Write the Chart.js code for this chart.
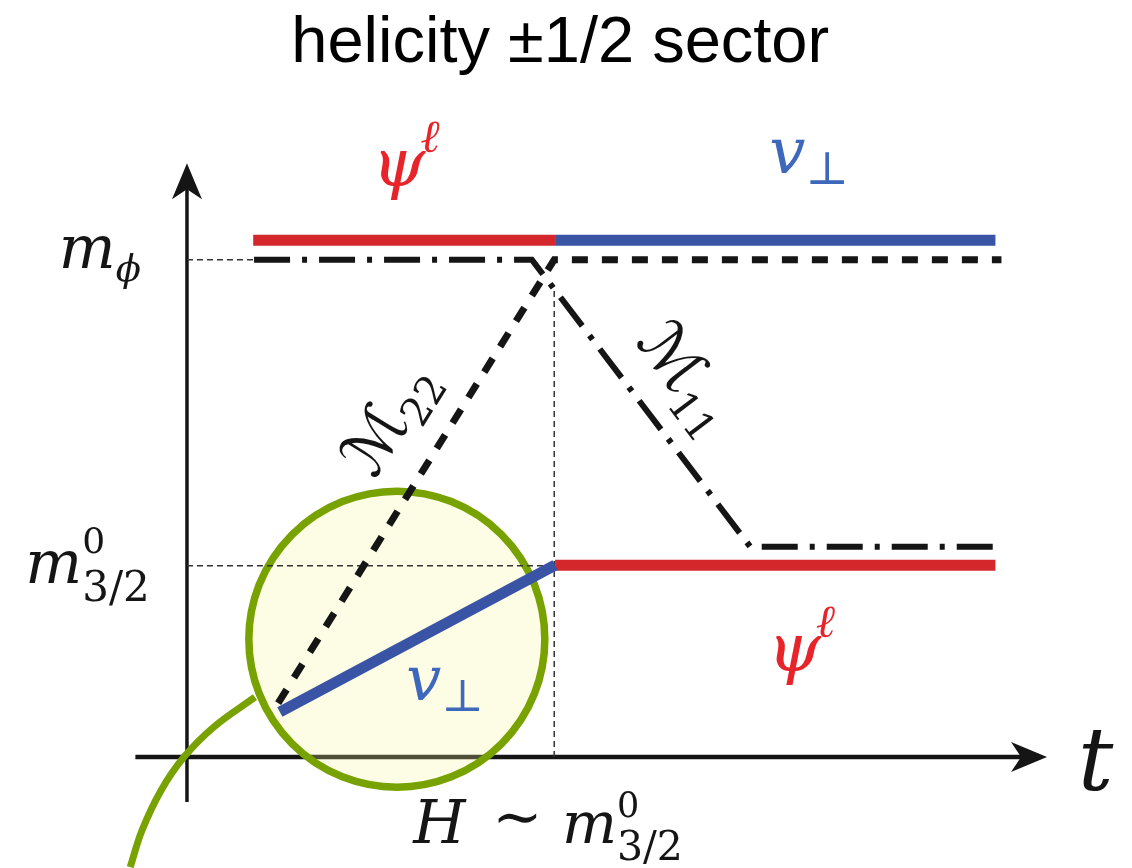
<!DOCTYPE html>
<html lang="en">
<head>
  <meta charset="UTF-8">
  <title>helicity ±1/2 sector</title>
  <script src="https://cdn.jsdelivr.net/npm/chart.js"></script>
  <style>
    html, body { margin: 0; background: #fff; }
    #wrap { width: 1132px; height: 868px; }
  </style>
</head>
<body>
  <div id="wrap"><canvas id="chart" width="1132" height="868"></canvas></div>

  <script>
    // mass levels and the crossing time (arbitrary units)
    const mPhi = 8.4;
    const m32 = 3.23;
    const tH = 4.27;

    // eigenvalue branches
    const topRed   = [{x: 0.77, y: 8.73}, {x: 4.28, y: 8.73}];
    const topBlue  = [{x: 4.28, y: 8.73}, {x: 9.40, y: 8.73}];
    const lowBlue  = [{x: 1.08, y: 0.76}, {x: 4.28, y: 3.24}];
    const lowRed   = [{x: 4.28, y: 3.24}, {x: 9.40, y: 3.24}];
    const m11      = [{x: 0.78, y: 8.40}, {x: 4.01, y: 8.40}, {x: 6.55, y: 3.55}, {x: 9.47, y: 3.55}];
    const m22      = [{x: 1.06, y: 0.91}, {x: 4.27, y: 8.40}, {x: 9.47, y: 8.40}];

    // thin guides
    const guidePhi = [{x: 0, y: mPhi}, {x: 0.78, y: mPhi}];
    const guide32  = [{x: 0, y: m32}, {x: 4.28, y: m32}];
    const guideH   = [{x: tH, y: 0}, {x: tH, y: 7.94}];

    // magnifier circle and its tail
    const lens     = [{x: 2.44, y: 1.99}];
    const lensTail = [{x: 0.79, y: 1.01}, {x: 0.314, y: 0.51}, {x: -0.035, y: 0}, {x: -0.30, y: -0.56}, {x: -0.52, y: -1.23}, {x: -0.66, y: -1.86}];

    // axes extent
    const xAxisFrom = -0.6, xAxisTo = 10.0;
    const yAxisFrom = -0.76, yAxisTo = 10.03;

    const RED = '#d3272c', BLUE = '#3953a5', GREEN = '#77a200';
    const RED_TXT = '#e8242b', BLUE_TXT = '#3d68bb', INK = '#151515';

    function seg(data, color, width, dash, order, tension) {
      return {
        data, showLine: true, borderColor: color, borderWidth: width,
        borderDash: dash || [], pointRadius: 0, fill: false, clip: false,
        tension: tension || 0, order: order
      };
    }

    function arrowHead(ctx, x, y, dx, dy) {
      const len = 36, half = 15, notch = 10;
      const px = -dy, py = dx;
      ctx.beginPath();
      ctx.moveTo(x, y);
      ctx.lineTo(x - dx * len + px * half, y - dy * len + py * half);
      ctx.lineTo(x - dx * (len - notch), y - dy * (len - notch));
      ctx.lineTo(x - dx * len - px * half, y - dy * len - py * half);
      ctx.closePath();
      ctx.fill();
    }

    function mathLabel(ctx, x, y, o) {
      ctx.fillStyle = o.color;
      ctx.textAlign = 'left';
      ctx.textBaseline = 'alphabetic';
      ctx.font = 'italic ' + o.size + 'px "DejaVu Serif"';
      ctx.fillText(o.base, x, y);
      const w = ctx.measureText(o.base).width;
      if (o.sup) {
        const s = Math.round(o.size * (o.supScale || 0.6));
        ctx.font = (o.supItalic ? 'italic ' : '') + s + 'px "DejaVu Serif"';
        ctx.fillText(o.sup, x + w + (o.supDx || 0), y - o.size * (o.supShift || 0.5));
      }
      if (o.sub) {
        const s = Math.round(o.size * (o.subScale || 0.6));
        ctx.font = (o.subItalic ? 'italic ' : '') + s + 'px "DejaVu Serif"';
        ctx.fillText(o.sub, x + w + (o.subDx || 0), y + o.size * (o.subShift || 0.27));
      }
    }

    function rotatedM(ctx, cx, cy, angle, sub, size) {
      const mFont = size + 'px "DejaVu Sans"';
      const sFont = Math.round(size * 0.62) + 'px "DejaVu Serif"';
      ctx.save();
      ctx.translate(cx, cy);
      ctx.rotate(angle);
      ctx.fillStyle = INK;
      ctx.font = mFont;
      const wm = ctx.measureText('ℳ').width;
      ctx.font = sFont;
      const ws = ctx.measureText(sub).width;
      const x0 = -(wm + ws) / 2;
      ctx.font = mFont;
      ctx.fillText('ℳ', x0, size * 0.3);
      ctx.font = sFont;
      ctx.fillText(sub, x0 + wm, size * 0.5);
      ctx.restore();
    }

    const sketch = {
      id: 'sketch',
      beforeDatasetsDraw(chart) {
        const ctx = chart.ctx, xs = chart.scales.x, ys = chart.scales.y;
        const x0 = xs.getPixelForValue(0), y0 = ys.getPixelForValue(0);
        ctx.save();
        ctx.strokeStyle = INK;
        ctx.fillStyle = INK;
        // time axis
        ctx.lineWidth = 4.5;
        const xEnd = xs.getPixelForValue(xAxisTo);
        ctx.beginPath();
        ctx.moveTo(xs.getPixelForValue(xAxisFrom), y0);
        ctx.lineTo(xEnd - 20, y0);
        ctx.stroke();
        arrowHead(ctx, xEnd, y0, 1, 0);
        // mass axis
        ctx.lineWidth = 3.5;
        const yEnd = ys.getPixelForValue(yAxisTo);
        ctx.beginPath();
        ctx.moveTo(x0, ys.getPixelForValue(yAxisFrom));
        ctx.lineTo(x0, yEnd + 20);
        ctx.stroke();
        arrowHead(ctx, x0, yEnd, 0, -1);
        ctx.restore();
      },
      afterDatasetsDraw(chart) {
        const ctx = chart.ctx, xs = chart.scales.x, ys = chart.scales.y;
        const X = v => xs.getPixelForValue(v), Y = v => ys.getPixelForValue(v);
        ctx.save();

        // title
        ctx.fillStyle = '#000';
        ctx.font = '65px "Liberation Sans", Arial, sans-serif';
        ctx.textAlign = 'center';
        ctx.textBaseline = 'alphabetic';
        ctx.fillText('helicity ±1/2 sector', X(4.34), Y(11.74));

        // axis labels
        mathLabel(ctx, X(-1.49), Y(8.26), {base: 'm', sub: 'ϕ', subItalic: true, size: 60, color: INK, subShift: 0.22, subScale: 0.62});
        mathLabel(ctx, X(-1.88), Y(2.94), {base: 'm', sup: '0', sub: '3/2', size: 60, color: INK, supShift: 0.5, subShift: 0.3, subScale: 0.7});
        mathLabel(ctx, X(10.36), Y(-0.56), {base: 't', size: 88, color: INK});
        mathLabel(ctx, X(2.63), Y(-1.45), {base: 'H', size: 60, color: INK});
        ctx.font = '60px "DejaVu Serif"';
        ctx.fillText('∼', X(3.55), Y(-1.35));
        mathLabel(ctx, X(4.36), Y(-1.45), {base: 'm', sup: '0', sub: '3/2', size: 58, color: INK, supShift: 0.45, subShift: 0.3, subScale: 0.7});

        // branch labels
        mathLabel(ctx, X(2.15), Y(9.65), {base: 'ψ', sup: 'ℓ', supItalic: true, size: 68, color: RED_TXT, supShift: 0.5, supScale: 0.68, supDx: -5});
        mathLabel(ctx, X(6.77), Y(9.87), {base: 'v', sub: '⊥', size: 64, color: BLUE_TXT, subShift: 0.18, subScale: 0.72});
        mathLabel(ctx, X(6.75), Y(1.45), {base: 'ψ', sup: 'ℓ', supItalic: true, size: 68, color: RED_TXT, supShift: 0.5, supScale: 0.68, supDx: -5});
        mathLabel(ctx, X(2.55), Y(0.96), {base: 'v', sub: '⊥', size: 62, color: BLUE_TXT, subShift: 0.18, subScale: 0.72});

        // mass matrix labels, along their lines
        const a22 = Math.atan2(Y(m22[1].y) - Y(m22[0].y), X(m22[1].x) - X(m22[0].x));
        const a11 = Math.atan2(Y(m11[2].y) - Y(m11[1].y), X(m11[2].x) - X(m11[1].x));
        rotatedM(ctx, X(2.36), Y(5.7), a22, '22', 64);
        rotatedM(ctx, X(5.8), Y(6.4), a11, '11', 64);

        ctx.restore();
      }
    };

    new Chart(document.getElementById('chart'), {
      type: 'scatter',
      data: {
        datasets: [
          seg(lowBlue, BLUE, 11, null, 1),
          seg(lowRed, RED, 11, null, 2),
          seg(topRed, RED, 11, null, 3),
          seg(topBlue, BLUE, 11, null, 4),
          seg(m22, INK, 7, [16, 14], 5),
          seg(m11, INK, 6, [36, 12, 5, 12], 6),
          seg(guidePhi, '#333', 1.5, [6, 4], 7),
          seg(guide32, '#333', 1.5, [6, 4], 8),
          seg(guideH, '#333', 1.5, [6, 4], 9),
          seg(lensTail, GREEN, 7, null, 10, 0.4),
          {
            data: lens, showLine: false, clip: false, order: 11,
            pointRadius: 148, pointBorderWidth: 7.5,
            pointBackgroundColor: 'rgba(246,246,160,0.26)', pointBorderColor: GREEN
          }
        ]
      },
      options: {
        responsive: false,
        animation: false,
        devicePixelRatio: 1,
        events: [],
        layout: { padding: 0, autoPadding: false },
        plugins: { legend: { display: false }, tooltip: { enabled: false } },
        scales: {
          x: { type: 'linear', min: -2.174, max: 10.988, display: false },
          y: { type: 'linear', min: -1.875, max: 12.787, display: false }
        }
      },
      plugins: [sketch]
    });
  </script>
</body>
</html>
